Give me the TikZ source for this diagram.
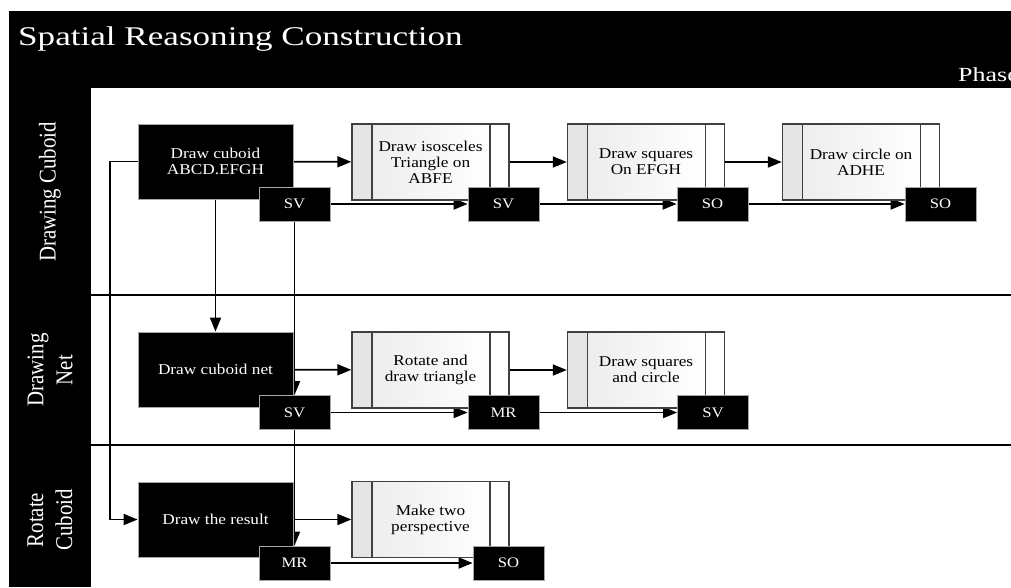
\documentclass[tikz,border=0pt]{standalone}
\usepackage{fontspec}
\setmainfont{Liberation Serif}[FakeStretch=1.15]
\newfontfamily\titlefont{Liberation Serif}[FakeStretch=1.3]
\newfontfamily\lanefont{Liberation Serif}[FakeStretch=0.87]
\usetikzlibrary{arrows.meta,backgrounds}

\begin{document}
\begin{tikzpicture}[x=1pt, y=-1pt,
  task/.style={fill=black, draw=gray!70, line width=0.8, text=white, minimum width=155, minimum height=75, inner sep=0, align=center, font=\fontsize{15}{16}\selectfont},
  tag/.style={fill=black, draw=gray!70, line width=0.8, text=white, minimum width=71, minimum height=34, inner sep=0, font=\fontsize{14.5}{16}\selectfont},
  process/.style={draw=black!75, line width=1.4, minimum width=157, minimum height=76, inner sep=0, align=center, font=\fontsize{15}{16}\selectfont,
    path picture={
      \fill[gray!20] (path picture bounding box.north west) rectangle ([xshift=20pt]path picture bounding box.south west);
      \shade[left color=gray!14, right color=white] ([xshift=20pt]path picture bounding box.north west) rectangle ([xshift=-19pt]path picture bounding box.south east);
      \draw[black!75, line width=1.4] ([xshift=20pt]path picture bounding box.north west) -- ([xshift=20pt]path picture bounding box.south west)
        ([xshift=-19pt]path picture bounding box.north east) -- ([xshift=-19pt]path picture bounding box.south east);
    }},
  lane/.style={rotate=90, text=white, align=center, inner sep=0, font=\lanefont\fontsize{24}{29}\selectfont},
  flow/.style={line width=1.8, -{Triangle[length=14pt, width=11pt]}}]

\useasboundingbox (0,0) rectangle (1011,587);
\clip (0,0) rectangle (1011,587);

% Title band and lane column
\fill[black] (9,11) rectangle (1011,88);
\fill[black] (9,88) rectangle (91,587);
\node[anchor=base west, inner sep=0, text=white, font=\titlefont\fontsize{27}{30}\selectfont] (title) at (18,45) {Spatial Reasoning Construction};
\node[anchor=base west, inner sep=0, text=white, font=\titlefont\fontsize{20}{24}\selectfont] (phase) at (958,81) {Phase};

\node[lane] (laneCuboid) at (50,192) {Drawing Cuboid};
\node[lane] (laneNet) at (50,370) {Drawing\\Net};
\node[lane] (laneRotate) at (50,520) {Rotate\\Cuboid};

% Lane borders
\draw[line width=1.8] (91,295) -- (1011,295);
\draw[line width=1.8] (91,445) -- (1011,445);

% Drawing Cuboid
\node[process] (tri) at (430.5,162) {Draw isosceles\\Triangle on\\ABFE};
\node[process] (squares) at (646,162) {Draw squares\\On EFGH};
\node[process] (circle) at (861,162) {Draw circle on\\ADHE};
\node[task] (cuboid) at (215.5,161.5) {Draw cuboid\\ABCD.EFGH};
\node[tag] (svCuboid) at (294.5,204) {SV};
\node[tag] (svTri) at (503.5,204) {SV};
\node[tag] (soSquares) at (712.5,204) {SO};
\node[tag] (soCircle) at (940.5,204) {SO};

% Drawing Net
\node[process] (rotate) at (430.5,370) {Rotate and\\draw triangle};
\node[process] (sqcircle) at (646,370) {Draw squares\\and circle};
\node[task] (net) at (215.5,369.5) {Draw cuboid net};
\node[tag] (svNet) at (294.5,412.5) {SV};
\node[tag] (mrRotate) at (503.5,412.5) {MR};
\node[tag] (svSquares) at (713,412.5) {SV};

% Rotate Cuboid
\node[process] (persp) at (430.5,519.5) {Make two\\perspective};
\node[task] (result) at (215.5,519.5) {Draw the result};
\node[tag] (mrResult) at (294.5,563) {MR};
\node[tag] (soPersp) at (508.5,563) {SO};

% Connectors
\begin{scope}[on background layer]
\draw[flow] (cuboid) -- (tri);
\draw[flow] (tri) -- (squares);
\draw[flow] (squares) -- (circle);
\draw[flow] (svCuboid) -- (svTri);
\draw[flow] (svTri) -- (soSquares);
\draw[flow] (soSquares) -- (soCircle);
\draw[flow] (cuboid) -- (net);
\draw[flow] (cuboid.west) -- ++(-28,0) |- (result.west);
\draw[flow] (svCuboid) -- (svNet);
\draw[flow] (svNet) -- (mrResult);
\draw[flow] (net) -- (rotate);
\draw[flow] (rotate) -- (sqcircle);
\draw[flow] (svNet) -- (mrRotate);
\draw[flow] (mrRotate) -- (svSquares);
\draw[flow] (result) -- (persp);
\draw[flow] (mrResult) -- (soPersp);
\end{scope}
\end{tikzpicture}
\end{document}
